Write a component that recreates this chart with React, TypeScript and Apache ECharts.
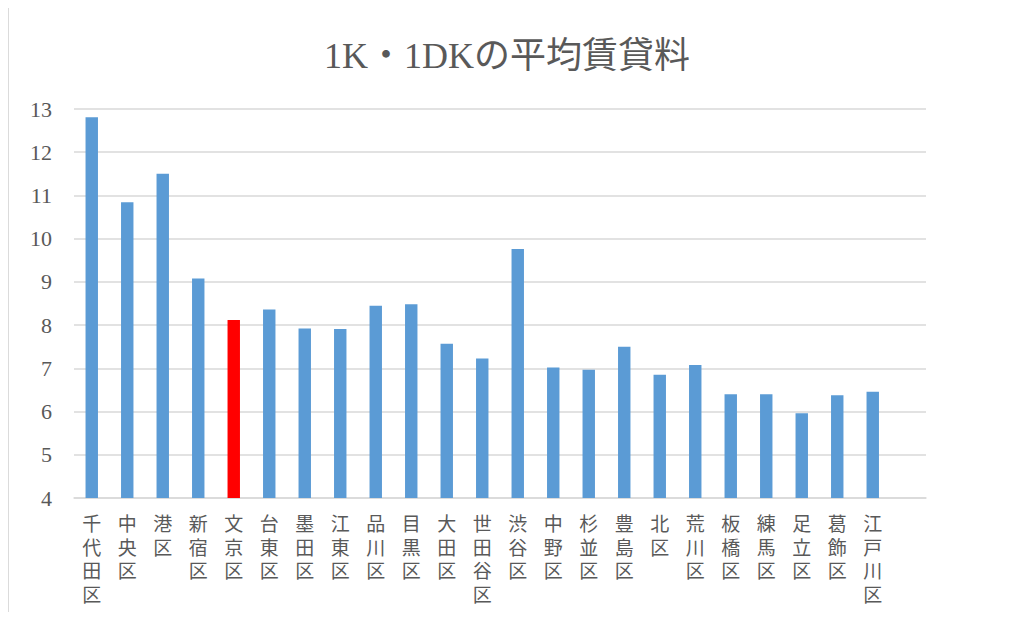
import React, { useEffect, useRef } from "react";
import * as echarts from "echarts";

const categories = [
  "千代田区", "中央区", "港区", "新宿区", "文京区", "台東区", "墨田区", "江東区",
  "品川区", "目黒区", "大田区", "世田谷区", "渋谷区", "中野区", "杉並区", "豊島区",
  "北区", "荒川区", "板橋区", "練馬区", "足立区", "葛飾区", "江戸川区", "",
];
const rents: (number | null)[] = [
  12.81, 10.84, 11.5, 9.08, 8.12, 8.36, 7.92, 7.91,
  8.45, 8.48, 7.57, 7.23, 9.76, 7.02, 6.97, 7.5,
  6.85, 7.08, 6.4, 6.4, 5.96, 6.38, 6.46, null,
];
const highlighted = "文京区";
const yTicks = { min: 4, max: 13, interval: 1 };

export default function App() {
  const ref = useRef<HTMLDivElement>(null);
  useEffect(() => {
    if (!ref.current) return;
    const chart = echarts.init(ref.current, null, { renderer: "svg" });
    chart.setOption({
      animation: false,
      backgroundColor: "#ffffff",
      title: {
        text: "1K・1DKの平均賃貸料",
        left: "center",
        top: 33,
        textStyle: {
          fontFamily: "'Liberation Serif', 'Noto Sans CJK JP', serif",
          fontSize: 36,
          fontWeight: "normal",
          color: "#595959",
        },
      },
      graphic: [
        {
          type: "rect",
          shape: { x: 8, y: 7, width: 1020, height: 640 },
          style: { fill: "none", stroke: "#d0d0d0", lineWidth: 1.5 },
          silent: true,
        },
      ],
      grid: { left: 74, right: 88, top: 109, bottom: 122, containLabel: false },
      xAxis: {
        type: "category",
        data: categories,
        axisLine: { lineStyle: { color: "#d9d9d9", width: 1.5 } },
        axisTick: { show: false },
        axisLabel: {
          interval: 0,
          margin: 13,
          color: "#595959",
          fontSize: 19,
          lineHeight: 23.5,
          fontFamily: "'Noto Sans CJK JP', sans-serif",
          verticalAlign: "top",
          formatter: (v: string) => v.split("").join("\n"),
        },
      },
      yAxis: {
        type: "value",
        min: yTicks.min,
        max: yTicks.max,
        interval: yTicks.interval,
        axisLine: { show: false },
        axisTick: { show: false },
        splitLine: { lineStyle: { color: "#d9d9d9", width: 1.5 } },
        axisLabel: {
          margin: 22,
          color: "#595959",
          fontSize: 22,
          fontFamily: "'Liberation Serif', serif",
        },
      },
      series: [
        {
          type: "bar",
          data: rents.map((v, i) => ({
            value: v,
            itemStyle: {
              color: categories[i] === highlighted ? "#ff0000" : "#5b9bd5",
            },
          })),
          barWidth: "35%",
        },
      ],
    });
    return () => chart.dispose();
  }, []);
  return <div ref={ref} style={{ width: 1014, height: 620, margin: -8 }} />;
}
